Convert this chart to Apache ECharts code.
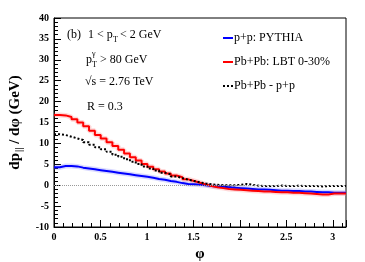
<!DOCTYPE html>
<html><head><meta charset="utf-8">
<script src="https://cdn.jsdelivr.net/npm/echarts@6/dist/echarts.min.js"></script>
<style>html,body{margin:0;padding:0;background:#fff}#c{width:365px;height:262px}</style>
</head><body><div id="c"></div>
<script>
// 50 bins over 0..pi
const nBins = 50;
const phiMax = Math.PI;
const ppPythia = [4.3,4.6,4.6,4.5,4.2,4.0,3.8,3.6,3.4,3.2,3.0,2.8,2.6,2.4,2.2,2.0,1.8,1.5,1.3,1.0,0.8,0.5,0.3,0.2,0.1,0.0,-0.2,-0.3,-0.4,-0.5,-0.6,-0.7,-0.8,-0.9,-1.0,-1.0,-1.1,-1.2,-1.3,-1.3,-1.4,-1.4,-1.5,-1.5,-1.6,-1.7,-1.7,-1.8,-1.8,-1.8];
const pbpbLBT = [16.8,16.7,16.3,15.8,15.0,14.1,13.0,12.0,11.2,10.3,9.4,8.5,7.6,6.7,5.9,5.1,4.4,3.8,3.3,2.8,2.3,1.9,1.4,1.0,0.6,0.2,-0.2,-0.5,-0.7,-0.9,-1.0,-1.1,-1.2,-1.3,-1.4,-1.5,-1.5,-1.6,-1.7,-1.7,-1.8,-1.8,-1.9,-2.0,-2.1,-2.2,-2.2,-2.0,-2.0,-2.0];
const diffPbPp = [12.2,12.0,11.6,11.2,10.8,10.3,9.7,9.1,8.6,8.0,7.3,6.8,6.2,5.6,5.1,4.5,4.0,3.5,3.0,2.6,2.1,1.7,1.3,1.0,0.7,0.4,0.2,0.1,0.0,0.0,0.0,0.1,0.3,0.1,-0.1,-0.2,-0.2,-0.2,-0.1,-0.2,-0.2,-0.1,-0.2,-0.2,-0.2,-0.3,-0.2,-0.2,-0.2,-0.2];
const seriesNames = ['p+p: PYTHIA','Pb+Pb: LBT 0-30%','Pb+Pb - p+p'];
const yTicks = {min:-10, max:40, interval:5};
const xTicks = {min:0, interval:0.5};

function hist(vals){
  const w = phiMax / nBins;
  const d = vals.map((v,i)=>[i*w, v]);
  d.push([phiMax, vals[vals.length-1]]);
  return d;
}
const serif = '"Liberation Serif", "DejaVu Serif", serif';
const chart = echarts.init(document.getElementById('c'));
const band = (name, vals, color) => ({
  name, type:'line', step:'end', data:hist(vals), symbol:'none', silent:true,
  lineStyle:{color, width:5}, z:1, animation:false
});
const dotIcon = 'path://M0,0h2v2h-2z M4,0h2v2h-2z M8,0h2v2h-2z';
chart.setOption({
  animation:false,
  grid:{left:54, top:18, right:19, bottom:35, show:true, borderColor:'#000', borderWidth:1, containLabel:false, outerBoundsMode:'none'},
  legend:{
    data:[
      {name:seriesNames[0], icon:'rect'},
      {name:seriesNames[1], icon:'rect'},
      {name:seriesNames[2], icon:dotIcon}
    ], orient:'vertical', left:218, top:26,
    itemWidth:10, itemHeight:2, itemGap:10,
    textStyle:{fontFamily:serif, fontSize:12, color:'#000', padding:[0,0,0,-4], lineHeight:14},
    selectedMode:false
  },
  xAxis:{
    type:'value', min:xTicks.min, max:phiMax, interval:xTicks.interval,
    name:'φ', nameLocation:'middle', nameGap:19,
    nameTextStyle:{fontFamily:serif, fontSize:15, fontWeight:'bold', color:'#000'},
    axisLine:{show:true, onZero:false, lineStyle:{color:'#000'}},
    axisTick:{show:true, inside:true, length:7, lineStyle:{color:'#000'}},
    minorTick:{show:true, splitNumber:5, length:4, lineStyle:{color:'#000'}},
    splitLine:{show:false},
    axisLabel:{fontFamily:serif, fontSize:10, fontWeight:'bold', color:'#000', margin:5, showMaxLabel:false,
      formatter:v=>String(v)}
  },
  yAxis:{
    type:'value', min:yTicks.min, max:yTicks.max, interval:yTicks.interval,
    name:'{m|dp}{s|||}{m| / dφ (GeV)}', nameLocation:'middle', nameGap:26, nameRotate:90,
    nameTextStyle:{rich:{
      m:{fontFamily:serif, fontSize:15, fontWeight:'bold', color:'#000', lineHeight:20},
      s:{fontFamily:serif, fontSize:10, fontWeight:'bold', color:'#000', lineHeight:20, padding:[10,0,0,1]}
    }},
    axisLine:{show:true, onZero:false, lineStyle:{color:'#000'}},
    axisTick:{show:true, inside:true, length:7, lineStyle:{color:'#000'}},
    minorTick:{show:true, splitNumber:5, length:4, lineStyle:{color:'#000'}},
    splitLine:{show:false},
    axisLabel:{fontFamily:serif, fontSize:10, fontWeight:'bold', color:'#000', margin:5}
  },
  graphic:[
    {type:'text', left:67, top:29, style:{text:'(b)', font:'12px '+serif, fill:'#000'}},
    {type:'text', left:88, top:29, style:{text:'1 < p', font:'12px '+serif, fill:'#000'}},
    {type:'text', left:113, top:36, style:{text:'T', font:'8px '+serif, fill:'#000'}},
    {type:'text', left:120, top:29, style:{text:'< 2 GeV', font:'12px '+serif, fill:'#000'}},
    {type:'text', left:86, top:54, style:{text:'p', font:'12px '+serif, fill:'#000'}},
    {type:'text', left:92, top:50, style:{text:'γ', font:'8px '+serif, fill:'#000'}},
    {type:'text', left:92, top:61, style:{text:'T', font:'8px '+serif, fill:'#000'}},
    {type:'text', left:100, top:54, style:{text:'> 80 GeV', font:'12px '+serif, fill:'#000'}},
    {type:'text', left:85, top:76, style:{text:'√s = 2.76 TeV', font:'12px '+serif, fill:'#000'}},
    {type:'text', left:87, top:101, style:{text:'R = 0.3', font:'12px '+serif, fill:'#000'}}
  ],
  series:[
    band('ppBand', ppPythia, 'rgba(130,130,255,0.3)'),
    band('pbBand', pbpbLBT, 'rgba(255,130,130,0.3)'),
    {name:seriesNames[0], type:'line', step:'end', data:hist(ppPythia), symbol:'none', z:3,
      lineStyle:{color:'#0000ff', width:2}, itemStyle:{color:'#0000ff'},
      markLine:{silent:true, symbol:'none', label:{show:false}, lineStyle:{color:'#999', type:'dotted', width:1},
        data:[{yAxis:0}]}},
    {name:seriesNames[1], type:'line', step:'end', data:hist(pbpbLBT), symbol:'none', z:3,
      lineStyle:{color:'#ff0000', width:2}, itemStyle:{color:'#ff0000'}},
    {name:seriesNames[2], type:'line', step:'end', data:hist(diffPbPp), symbol:'none', z:4,
      lineStyle:{color:'#000', width:2, type:[2,2]}, itemStyle:{color:'#000'}}
  ]
});
</script></body></html>
